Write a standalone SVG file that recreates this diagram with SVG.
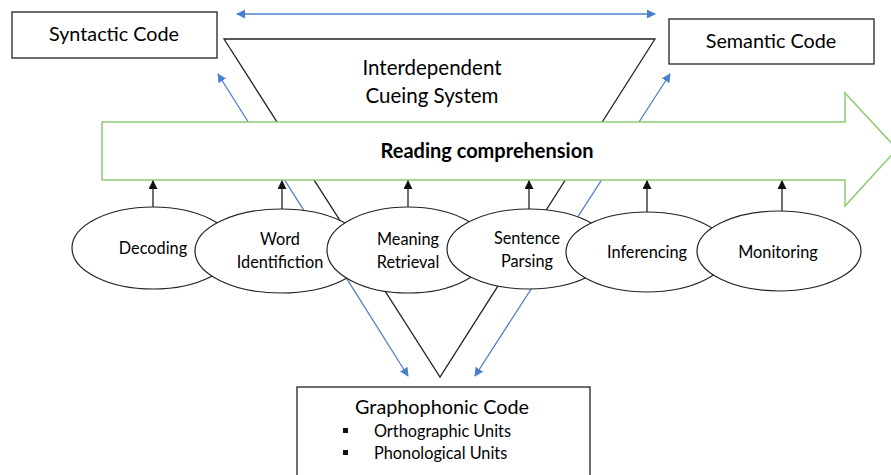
<svg xmlns="http://www.w3.org/2000/svg" width="891" height="475" viewBox="0 0 891 475">
<defs>
<style>
.t{font-family:Lato,"Open Sans","Liberation Sans",sans-serif;fill:#000;text-anchor:middle}
.big{font-size:19.8px}
.sm{font-size:16.3px}
.box{fill:#fff;stroke:#222;stroke-width:1.3}
.ell{fill:#fff;stroke:#222;stroke-width:1.2}
.blue{stroke:#4a7fcf;stroke-width:1.3;fill:none}
.blk{stroke:#222;stroke-width:1.3;fill:none}
</style>
<marker id="bh" viewBox="0 0 10 10" refX="9" refY="5" markerWidth="9" markerHeight="9" markerUnits="userSpaceOnUse" orient="auto-start-reverse">
<path d="M0,0 L10,5 L0,10 z" fill="#4a7fcf"/>
</marker>
<marker id="kh" viewBox="0 0 10 10" refX="9" refY="5" markerWidth="9" markerHeight="9" markerUnits="userSpaceOnUse" orient="auto">
<path d="M0,0 L10,5 L0,10 z" fill="#111"/>
</marker>
</defs>
<rect width="891" height="475" fill="#fff"/>

<g id="cueing-system">
<polygon points="224,39 655,39 440,377" class="blk"/>
<text class="t" font-size="20.5px" x="432" y="75">Interdependent</text>
<text class="t" font-size="20.5px" x="432" y="103">Cueing System</text>
</g>

<g id="connectors">
<line x1="237" y1="14" x2="655" y2="14" class="blue" marker-start="url(#bh)" marker-end="url(#bh)"/>
<line x1="218" y1="74" x2="408" y2="376" class="blue" marker-start="url(#bh)" marker-end="url(#bh)"/>
<line x1="670" y1="74" x2="475" y2="376" class="blue" marker-start="url(#bh)" marker-end="url(#bh)"/>
</g>

<g id="reading-comprehension">
<polygon points="102,122 845,122 845,93 897,149 845,206 845,180 102,180" fill="#fff" stroke="#8fcb72" stroke-width="1.5"/>
<text class="t" x="487" y="158" font-size="20px" font-weight="bold">Reading comprehension</text>
</g>

<g id="up-arrows">
<line x1="153" y1="208" x2="153" y2="181" class="blk" marker-end="url(#kh)"/>
<line x1="282" y1="210" x2="282" y2="181" class="blk" marker-end="url(#kh)"/>
<line x1="408" y1="208" x2="408" y2="181" class="blk" marker-end="url(#kh)"/>
<line x1="529" y1="209" x2="529" y2="181" class="blk" marker-end="url(#kh)"/>
<line x1="647" y1="212" x2="647" y2="181" class="blk" marker-end="url(#kh)"/>
<line x1="782" y1="211" x2="782" y2="181" class="blk" marker-end="url(#kh)"/>
</g>

<g id="decoding">
<ellipse cx="153" cy="248" rx="81" ry="41" class="ell"/>
<text class="t sm" x="153" y="254">Decoding</text>
</g>
<g id="word-identification">
<ellipse cx="281" cy="251" rx="86" ry="42" class="ell"/>
<text class="t sm" x="280" y="245">Word</text>
<text class="t sm" x="280" y="268">Identifiction</text>
</g>
<g id="meaning-retrieval">
<ellipse cx="408" cy="250" rx="81" ry="43" class="ell"/>
<text class="t sm" x="408" y="245">Meaning</text>
<text class="t sm" x="408" y="268">Retrieval</text>
</g>
<g id="sentence-parsing">
<ellipse cx="529" cy="249" rx="82" ry="40" class="ell"/>
<text class="t sm" x="527" y="244">Sentence</text>
<text class="t sm" x="527" y="267">Parsing</text>
</g>
<g id="inferencing">
<ellipse cx="647" cy="252" rx="81" ry="40" class="ell"/>
<text class="t sm" x="647" y="258">Inferencing</text>
</g>
<g id="monitoring">
<ellipse cx="779" cy="251" rx="82" ry="40" class="ell"/>
<text class="t sm" x="778" y="258">Monitoring</text>
</g>

<g id="syntactic-code">
<rect x="12" y="12" width="205" height="46" class="box"/>
<text class="t big" x="114" y="41">Syntactic Code</text>
</g>
<g id="semantic-code">
<rect x="669" y="19" width="205" height="45" class="box"/>
<text class="t big" x="771" y="48">Semantic Code</text>
</g>
<g id="graphophonic-code">
<rect x="297" y="387" width="293" height="100" class="box"/>
<text class="t big" x="442" y="414">Graphophonic Code</text>
<rect x="343" y="428" width="5" height="5" fill="#111"/>
<text class="t sm" x="374" y="437" style="text-anchor:start">Orthographic Units</text>
<rect x="343" y="450" width="5" height="5" fill="#111"/>
<text class="t sm" x="374" y="459" style="text-anchor:start">Phonological Units</text>
</g>
</svg>
